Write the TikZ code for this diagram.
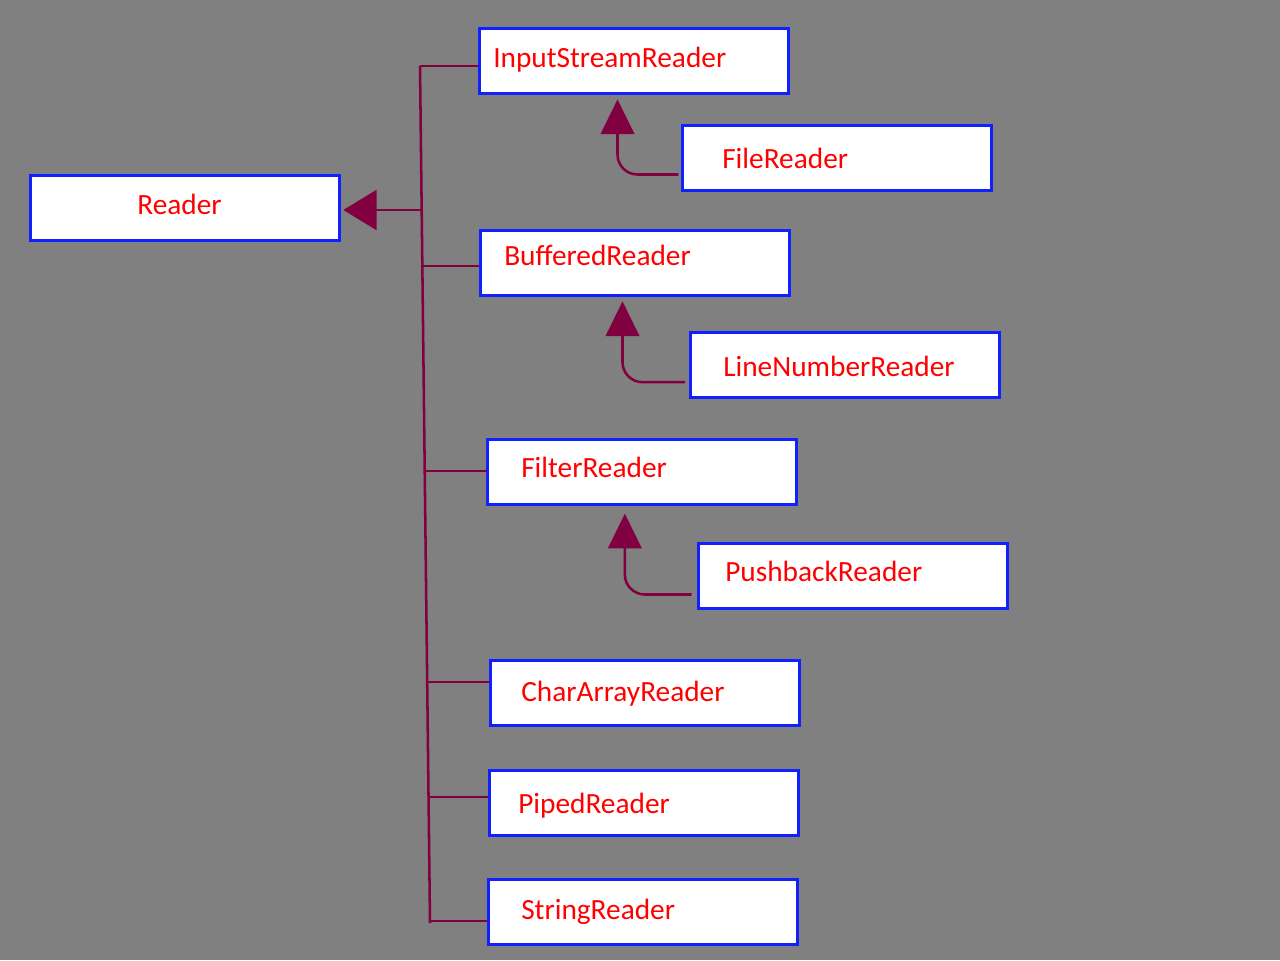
\documentclass[tikz,border=0pt]{standalone}
\usepackage{fontspec}
\setmainfont{Carlito}
\usetikzlibrary{arrows.meta}
\definecolor{bg}{RGB}{128,128,128}
\definecolor{wire}{RGB}{128,0,64}
\definecolor{edge}{RGB}{16,32,255}
\definecolor{txt}{RGB}{255,0,0}
\tikzset{
  cls/.style={draw=edge, line width=2.25pt, fill=white, rectangle, anchor=north west,
    minimum width=232pt, minimum height=48.5pt, inner sep=0pt},
  lbl/.style={text=txt, font=\fontsize{22}{26}\selectfont, inner sep=0pt, anchor=base west},
  wireline/.style={draw=wire, line width=1.9pt},
  bigtip/.style={-{Triangle[length=25pt,width=30pt,fill=wire]}},
  subtip/.style={-{Triangle[length=26pt,width=25pt,fill=wire]}},
}
\begin{document}
\begin{tikzpicture}[x=0.75pt,y=-0.75pt]
\useasboundingbox[fill=bg] (0,0) rectangle (1280,960);
% boxes
\node[cls] (isr) at (478,27) {};
\node[cls] (fr)  at (681,124) {};
\node[cls] (rd)  at (29,174) {};
\node[cls] (br)  at (479,229) {};
\node[cls] (lnr) at (689,331) {};
\node[cls] (fir) at (486,438) {};
\node[cls] (pbr) at (697,542) {};
\node[cls] (car) at (489,659) {};
\node[cls] (pr)  at (488,769) {};
\node[cls] (sr)  at (487,878) {};
% labels
\node[lbl] (tisr) at (493,67) {InputStreamReader};
\node[lbl] (tfr)  at (722,168) {FileReader};
\node[lbl, anchor=base] (trd) at (179.5,214) {Reader};
\node[lbl] (tbr)  at (504,265) {BufferedReader};
\node[lbl] (tlnr) at (723,376) {LineNumberReader};
\node[lbl] (tfir) at (521,477) {FilterReader};
\node[lbl] (tpbr) at (725,581) {PushbackReader};
\node[lbl] (tcar) at (521,701) {CharArrayReader};
\node[lbl] (tpr)  at (518,813) {PipedReader};
\node[lbl] (tsr)  at (521,919) {StringReader};
% spine
\coordinate (stop) at (420,66);
\coordinate (sbot) at (430,923);
\coordinate (jr) at (422,210);
\coordinate (j1) at (420,66);
\coordinate (j2) at (423,266);
\coordinate (j3) at (426,471);
\coordinate (j4) at (428,682);
\coordinate (j5) at (429,797);
\coordinate (j6) at (430,921);
\draw[wireline] (stop) -- (sbot);
\draw[wireline] (j1) -- (j1 -| isr.west);
\draw[wireline] (j2) -- (j2 -| br.west);
\draw[wireline] (j3) -- (j3 -| fir.west);
\draw[wireline] (j4) -- (j4 -| car.west);
\draw[wireline] (j5) -- (j5 -| pr.west);
\draw[wireline] (j6) -- (j6 -| sr.west);
\draw[wireline, bigtip] (jr) -- ([xshift=1.5pt]jr -| rd.east);
% sub-class arrows
\draw[wireline, subtip, rounded corners=15pt]
  ([yshift=-12.5pt,xshift=-2pt]fr.west) -| ([xshift=-12.5pt,yshift=-3.5pt]isr.south);
\draw[wireline, subtip, rounded corners=15pt]
  ([yshift=-13pt,xshift=-3pt]lnr.west) -| ([xshift=-9.5pt,yshift=-3.5pt]br.south);
\draw[wireline, subtip, rounded corners=15pt]
  ([yshift=-14pt,xshift=-4pt]pbr.west) -| ([xshift=-13pt,yshift=-6pt]fir.south);
\end{tikzpicture}
\end{document}
